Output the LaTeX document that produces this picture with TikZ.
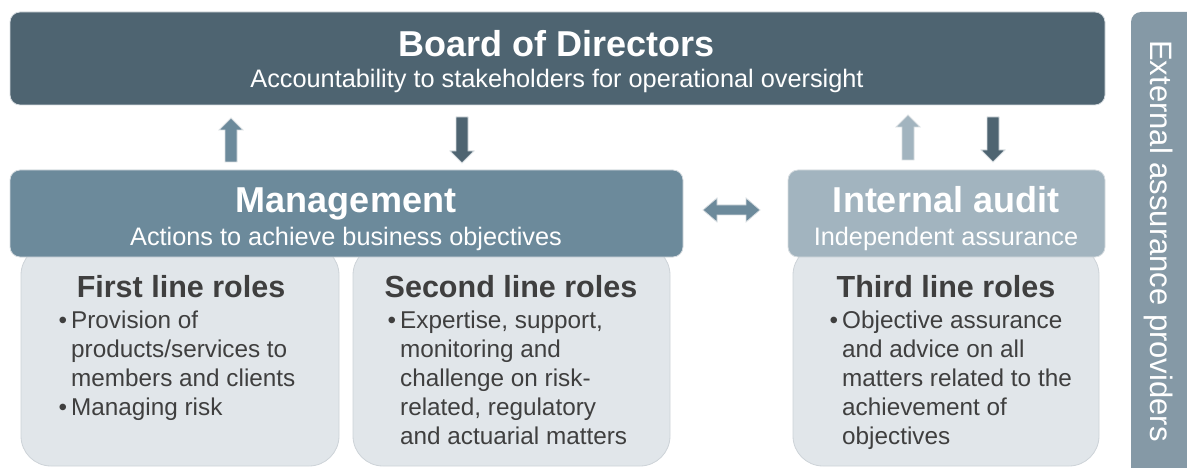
\documentclass[tikz,border=0pt]{standalone}
\usepackage{fontspec}
\setmainfont{Liberation Sans}
\usetikzlibrary{calc}
\definecolor{boardc}{HTML}{4E6471}
\definecolor{mgmtc}{HTML}{6C8A9B}
\definecolor{iac}{HTML}{A2B4BF}
\definecolor{extc}{HTML}{8599A6}
\definecolor{rolec}{HTML}{E1E6EA}
\definecolor{roleline}{HTML}{CDD3D8}
\definecolor{txtc}{HTML}{3F3F3F}
\definecolor{outl}{HTML}{D6DCE0}
\newcommand{\uparrowblk}[4]{% cx, ytop, ybot, color
  \filldraw[fill=#4, draw=outl, line width=0.8pt]
    (#1-6,#3) -- (#1-6,#2+12) -- (#1-12,#2+12) -- (#1,#2) -- (#1+12,#2+12) -- (#1+6,#2+12) -- (#1+6,#3) -- cycle;}
\newcommand{\downarrowblk}[4]{% cx, ytop, ybot, color
  \filldraw[fill=#4, draw=outl, line width=0.8pt]
    (#1-6,#2) -- (#1-6,#3-12) -- (#1-12,#3-12) -- (#1,#3) -- (#1+12,#3-12) -- (#1+6,#3-12) -- (#1+6,#2) -- cycle;}
\tikzset{
  header/.style={rounded corners=10pt, draw=outl, line width=0.8pt},
  rolebox/.style={rounded corners=30pt, fill=rolec, draw=roleline, line width=0.8pt},
  htitle/.style={font=\fontsize{36}{40}\selectfont\bfseries, text=white, anchor=base, inner sep=0},
  hsub/.style={font=\fontsize{25.3}{28}\selectfont, text=white, anchor=base, inner sep=0},
  rtitle/.style={font=\fontsize{30.5}{34}\selectfont\bfseries, text=txtc, anchor=base, inner sep=0},
  rbody/.style={font=\fontsize{24.3}{29}\selectfont, text=txtc, anchor=north west, inner sep=0, align=left},
}
\newcommand{\bul}{\llap{\textbullet\hspace{4pt}}}
\begin{document}
\begin{tikzpicture}[x=1pt,y=-1pt]
\useasboundingbox (0,0) rectangle (1187,468);
% role boxes (behind headers)
\draw[rolebox] (21,245) rectangle (339,466);
\draw[rolebox] (353,245) rectangle (670,466);
\draw[rolebox] (793,245) rectangle (1099,466);
% headers
\draw[header, fill=boardc] (10,12) rectangle (1105,105);
\draw[header, fill=mgmtc] (10,170) rectangle (683,257);
\draw[header, fill=iac] (788,170) rectangle (1105,257);
% external bar
\begin{scope}
\clip (0,0) rectangle (1187,468);
\fill[extc, rounded corners=10pt] (1131,12) rectangle (1200,480);
\end{scope}
\node[rotate=-90, font=\fontsize{31}{34}\selectfont, text=white, inner sep=0] (ext) at (1159,241) {External assurance providers};
% texts
\node[htitle] (boardt) at (557,57) {Board of Directors};
\node[hsub] (boards) at (557,88) {Accountability to stakeholders for operational oversight};
\node[htitle] (mgmtt) at (346,213) {Management};
\node[hsub] (mgmts) at (346,245) {Actions to achieve business objectives};
\node[htitle] (iat) at (946,213) {Internal audit};
\node[hsub] (ias) at (946,245) {Independent assurance};
\node[rtitle] (r1t) at (181,297) {First line roles};
\node[rtitle] (r2t) at (511,297) {Second line roles};
\node[rtitle] (r3t) at (946,297) {Third line roles};
\node[rbody] (r1b) at (71,311) {\bul Provision of\\products/services to\\members and clients\\\bul Managing risk};
\node[rbody] (r2b) at (400,311) {\bul Expertise, support,\\monitoring and\\challenge on risk-\\related, regulatory\\and actuarial matters};
\node[rbody] (r3b) at (842,311) {\bul Objective assurance\\and advice on all\\matters related to the\\achievement of\\objectives};
% arrows
\uparrowblk{231}{118}{162}{mgmtc}
\downarrowblk{462}{117}{163}{boardc}
\uparrowblk{908}{115}{160}{iac}
\downarrowblk{993}{117}{162}{boardc}
\filldraw[fill=mgmtc, draw=outl, line width=0.8pt]
  (703,210) -- (717,198) -- (717,205) -- (746,205) -- (746,198) -- (760,210) -- (746,222) -- (746,215) -- (717,215) -- (717,222) -- cycle;
\end{tikzpicture}
\end{document}
